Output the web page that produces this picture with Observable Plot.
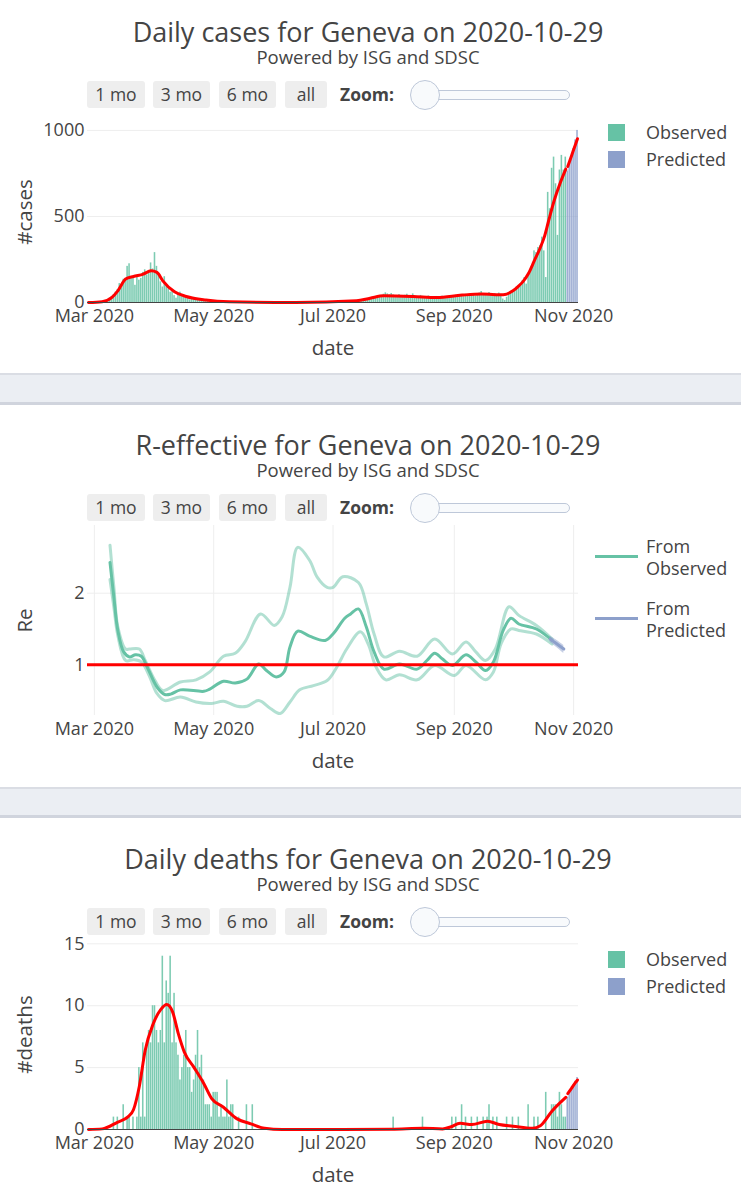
<!DOCTYPE html>
<html>
<head>
<meta charset="utf-8">
<script src="https://cdn.jsdelivr.net/npm/d3@7"></script>
<script src="https://cdn.jsdelivr.net/npm/@observablehq/plot@0.6"></script>
<style>
html,body{margin:0;padding:0;background:#fff;}
#page{position:relative;width:741px;height:1200px;overflow:hidden;font-family:"Open Sans",sans-serif;color:#444;}
.panel{position:absolute;left:0;width:741px;height:373px;}
.panel svg{position:absolute;left:0;top:0;}
.title{position:absolute;left:0;width:736px;text-align:center;top:17px;font-size:27px;line-height:30px;white-space:nowrap;}
.subtitle{position:absolute;left:0;width:736px;text-align:center;top:47px;font-size:18.5px;line-height:19px;white-space:nowrap;}
.btn{position:absolute;top:81px;height:27px;line-height:27px;background:#eeeeee;border-radius:3px;text-align:center;font-size:17.5px;}
.zoomlbl{position:absolute;top:81px;line-height:27px;left:340px;font-weight:bold;font-size:17.5px;}
.track{position:absolute;left:425px;top:90px;width:143px;height:8px;border:1px solid #bec8d9;border-radius:5px;background:#f8fafc;}
.knob{position:absolute;left:410px;top:80px;width:28px;height:28px;border:1px solid #bec8d9;border-radius:50%;background:#f8fafc;}
.band{position:absolute;left:0;width:741px;background:#ebeef3;border-top:2px solid #dadde4;border-bottom:3px solid #d0d4dd;box-sizing:border-box;}
.sq{position:absolute;left:608px;width:17px;height:17px;}
.legtxt{position:absolute;left:646px;font-size:18px;line-height:22px;white-space:nowrap;}
.legline{position:absolute;left:595px;width:43px;height:3px;}
</style>
</head>
<body>
<div id="page"></div>
<script>
// ---------------- DATA ----------------
const startDate = "2020-02-27"; // first day of the daily series

// Daily cases (observed), 2020-02-27 .. 2020-10-28
const casesObserved = [
  0,1,0,
  2,1,3,5,6,10,12,18,25,35,45,60,75,110,85,135,140,210,225,150,145,100,155,130,140,175,190,160,185,230,195,
  290,210,160,120,90,150,105,80,60,70,40,25,50,60,45,40,35,30,15,25,30,22,20,18,10,8,15,12,10,8,
  6,5,3,8,4,6,3,2,5,4,3,2,6,1,3,2,4,1,2,3,0,2,1,3,0,1,2,0,1,2,1,
  1,0,2,0,1,0,0,3,1,0,2,1,0,0,1,2,0,1,3,0,2,1,0,4,2,1,3,2,5,4,
  2,4,3,5,2,6,4,3,7,5,6,9,8,10,12,11,15,18,22,25,24,30,33,38,36,42,48,56,50,45,52,
  44,40,38,46,35,30,42,48,40,36,50,38,34,30,41,36,32,28,38,33,30,27,35,26,32,37,30,34,29,40,36,
  38,42,35,45,40,33,48,44,36,50,46,38,42,55,64,52,45,40,58,48,42,52,38,55,45,20,12,30,45,55,
  65,75,90,95,105,126,145,107,170,190,205,300,290,320,330,380,300,145,640,545,780,845,690,390,770,855,770,845
];
// Daily cases (predicted), 2020-10-29 .. 2020-11-03
const casesPredicted = [765,805,850,895,945,1000];

// Daily deaths (observed), 2020-02-27 .. 2020-10-28
const deathsObserved = [
  0,0,0,
  0,0,0,0,0,0,0,0,0,0, 1,0,1,0,0,2,0,1,1,0, 1,0,1,5,1,7,1,7,8,7, 10,
  10,8,7,8,14,7,12,11,14,7, 11,7,6,4,5,6,8,5,5,3, 4,6,8,5,6,4,2,2,2,1,
  3,3,3,1,2,1,1,4,1,2, 2,0,0,1,0,0,0,2,0,0, 2,0,0,0,0,0,0,0,0,0, 0,
  0,0,0,0,0,0,0,0,0,0, 0,0,0,0,0,0,0,0,0,0, 0,0,0,0,0,0,0,0,0,0,
  0,0,0,0,0,0,0,0,0,0, 0,0,0,0,0,0,0,0,0,0, 0,0,0,0,0,0,0,0,0,0, 0,
  1,0,0,0,0,0,0,0,0,0, 0,0,0,0,0,1,0,0,0,0, 0,0,0,0,0,0,0,0,0,0, 1,
  0,1,0,0,2,0,1,0,0,1, 0,0,1,0,0,1,0,1,2,0, 1,0,1,0,0,0,0,1,0,0,
  1,0,0,1,0,0,0,0,2,0, 0,1,0,1,0,0,0,3,0,0, 2,2,2,1,3,2,1,1
];
// Daily deaths (predicted), 2020-10-29 .. 2020-11-03
const deathsPredicted = [2.6,2.9,3.2,3.6,3.9,4.2];

// Smoothed fit (red line) for cases
const casesFit = [
  ["2020-02-27",0],["2020-03-05",5],["2020-03-10",30],["2020-03-13",68],["2020-03-17",136],
  ["2020-03-21",151],["2020-03-26",165],["2020-03-30",184],["2020-04-02",175],["2020-04-05",126],
  ["2020-04-11",62],["2020-04-17",35],["2020-04-27",14],["2020-05-09",4],["2020-06-12",0],
  ["2020-07-13",10],["2020-07-20",25],["2020-07-27",39],["2020-08-11",35],["2020-08-23",29],
  ["2020-09-05",43],["2020-09-15",49],["2020-09-26",45],["2020-10-01",68],["2020-10-04",97],
  ["2020-10-06",120],["2020-10-09",170],["2020-10-12",245],["2020-10-15",320],["2020-10-17",380],
  ["2020-10-19",465],["2020-10-22",590],["2020-10-25",690],["2020-10-28",775]
];
const casesFitPredicted = [["2020-10-29",790],["2020-10-31",855],["2020-11-02",920],["2020-11-03",952]];

// Smoothed fit (red line) for deaths
const deathsFit = [
  ["2020-02-27",0],["2020-03-05",0.05],["2020-03-13",0.6],["2020-03-18",1.0],["2020-03-21",1.6],
  ["2020-03-24",3.5],["2020-03-27",6.4],["2020-03-31",8.5],["2020-04-04",9.7],["2020-04-07",10.1],
  ["2020-04-10",9.5],["2020-04-13",7.7],["2020-04-16",6.25],["2020-04-21",5.0],["2020-04-26",3.7],
  ["2020-04-30",2.5],["2020-05-06",1.8],["2020-05-13",0.86],["2020-05-20",0.46],["2020-05-27",0.1],
  ["2020-06-05",0],["2020-07-31",0.03],["2020-08-16",0.1],["2020-08-26",0.05],["2020-08-30",0.2],
  ["2020-09-04",0.5],["2020-09-10",0.4],["2020-09-18",0.67],["2020-09-24",0.4],["2020-10-01",0.27],
  ["2020-10-11",0.1],["2020-10-15",0.3],["2020-10-21",1.5],["2020-10-28",2.6]
];
const deathsFitPredicted = [["2020-10-29",2.9],["2020-10-31",3.35],["2020-11-02",3.8],["2020-11-03",4.0]];

// R-effective (from observed): central estimate and bounds
const reMean = [
  ["2020-03-09",2.43],["2020-03-11",1.94],["2020-03-13",1.48],["2020-03-16",1.18],["2020-03-19",1.11],
  ["2020-03-22",1.14],["2020-03-25",1.12],["2020-03-28",0.97],["2020-04-02",0.69],["2020-04-06",0.585],
  ["2020-04-09",0.59],["2020-04-14",0.65],["2020-04-26",0.63],["2020-04-29",0.66],["2020-05-06",0.77],
  ["2020-05-12",0.745],["2020-05-18",0.80],["2020-05-24",1.01],["2020-05-28",0.92],["2020-06-02",0.83],
  ["2020-06-06",0.90],["2020-06-09",1.25],["2020-06-13",1.47],["2020-06-19",1.40],["2020-06-27",1.34],
  ["2020-07-01",1.43],["2020-07-07",1.65],["2020-07-10",1.71],["2020-07-14",1.78],["2020-07-18",1.53],
  ["2020-07-22",1.18],["2020-07-27",0.94],["2020-08-04",1.01],["2020-08-13",0.94],["2020-08-18",1.06],
  ["2020-08-22",1.16],["2020-08-26",1.08],["2020-08-31",0.99],["2020-09-07",1.14],["2020-09-12",1.04],
  ["2020-09-17",0.92],["2020-09-21",1.04],["2020-09-26",1.48],["2020-09-30",1.65],["2020-10-04",1.57],
  ["2020-10-13",1.50],["2020-10-21",1.34]
];
const reUpper = [
  ["2020-03-09",2.67],["2020-03-11",2.08],["2020-03-13",1.53],["2020-03-17",1.22],["2020-03-19",1.22],
  ["2020-03-24",1.22],["2020-03-27",1.06],["2020-04-01",0.78],["2020-04-05",0.64],["2020-04-14",0.76],
  ["2020-04-22",0.79],["2020-04-29",0.90],["2020-05-06",1.12],["2020-05-12",1.16],["2020-05-17",1.32],
  ["2020-05-25",1.71],["2020-06-01",1.55],["2020-06-05",1.67],["2020-06-09",2.08],["2020-06-13",2.64],
  ["2020-06-19",2.46],["2020-06-23",2.22],["2020-06-28",2.08],["2020-07-01",2.08],["2020-07-06",2.23],
  ["2020-07-14",2.15],["2020-07-18",1.85],["2020-07-22",1.43],["2020-07-27",1.11],["2020-08-04",1.19],
  ["2020-08-13",1.12],["2020-08-22",1.36],["2020-08-31",1.15],["2020-09-07",1.32],["2020-09-12",1.18],
  ["2020-09-17",1.06],["2020-09-22",1.22],["2020-09-29",1.81],["2020-10-04",1.69],["2020-10-13",1.55],
  ["2020-10-21",1.36]
];
const reLower = [
  ["2020-03-09",2.19],["2020-03-11",1.80],["2020-03-13",1.41],["2020-03-17",1.06],["2020-03-21",1.07],
  ["2020-03-25",1.04],["2020-03-29",0.85],["2020-04-02",0.60],["2020-04-06",0.50],["2020-04-14",0.55],
  ["2020-04-22",0.48],["2020-04-30",0.46],["2020-05-06",0.49],["2020-05-13",0.42],["2020-05-18",0.42],
  ["2020-05-24",0.50],["2020-05-30",0.39],["2020-06-04",0.32],["2020-06-09",0.48],["2020-06-14",0.65],
  ["2020-06-21",0.71],["2020-06-28",0.78],["2020-07-03",0.97],["2020-07-08",1.22],["2020-07-15",1.46],
  ["2020-07-19",1.29],["2020-07-23",0.97],["2020-07-28",0.79],["2020-08-04",0.86],["2020-08-13",0.79],
  ["2020-08-22",0.99],["2020-09-01",0.85],["2020-09-07",0.99],["2020-09-17",0.79],["2020-09-21",0.90],
  ["2020-09-25",1.30],["2020-09-30",1.50],["2020-10-04",1.48],["2020-10-13",1.43],["2020-10-21",1.29]
];
// R-effective (from predicted): date, central, lower, upper
const rePredicted = [
  ["2020-10-20",1.36,1.31,1.40],["2020-10-23",1.30,1.25,1.35],["2020-10-27",1.22,1.16,1.27]
];

// Axis ticks
const xTicks = ["2020-03-01","2020-05-01","2020-07-01","2020-09-01","2020-11-01"];
const casesTicks = [0,500,1000];
const reTicks = [1,2];
const deathsTicks = [0,5,10,15];

const colObserved = "#66c2a5";
const colPredicted = "#8da0cb";

// ---------------- BUILD ----------------
const parse = d3.utcParse("%Y-%m-%d");
const start = parse(startDate);
function dailyBars(values, offset) {
  return values.map((v, i) => {
    const d = d3.utcDay.offset(start, offset + i);
    return {x1: d3.utcHour.offset(d, -12), x2: d3.utcHour.offset(d, 12), y1: 0, y2: v};
  });
}
const nObs = casesObserved.length;
const lastDay = d3.utcDay.offset(start, nObs + casesPredicted.length - 1);
const xDomain = [d3.utcHour.offset(start, -12), d3.utcHour.offset(lastDay, 12)];
const xTickDates = xTicks.map(parse);
const pts = arr => arr.map(d => ({x: parse(d[0]), y: d[1]}));

function chart({yDomain, yTicks, gridTicks, yLabel, marks, vgrid, baseline, top}) {
  return Plot.plot({
    width: 741, height: 373,
    marginLeft: 87, marginRight: 163, marginTop: top, marginBottom: 71,
    style: {fontFamily: "'Open Sans', sans-serif", fontSize: "18px", color: "#444", background: "transparent"},
    x: {type: "utc", domain: xDomain},
    y: {domain: yDomain},
    marks: [
      vgrid ? Plot.ruleX(xTickDates, {stroke: "#eeeeee", strokeWidth: 1}) : null,
      Plot.ruleY(gridTicks, {stroke: "#eeeeee", strokeWidth: 1}),
      ...marks,
      baseline ? Plot.ruleY([0], {stroke: "#444", strokeWidth: 1}) : null,
      Plot.axisX(xTickDates, {tickSize: 0, tickPadding: 7, tickFormat: d3.utcFormat("%b %Y"), label: null, fontSize: 18}),
      Plot.axisY(yTicks, {tickSize: 0, tickPadding: 3, tickFormat: d => String(d), label: null, fontSize: 18}),
      Plot.text(["date"], {frameAnchor: "bottom", dy: 46, fontSize: 20.5, textAnchor: "middle", lineAnchor: "middle", fill: "#444"}),
      Plot.text([yLabel], {frameAnchor: "left", dx: -62, rotate: -90, fontSize: 20.5, textAnchor: "middle", lineAnchor: "middle", fill: "#444"})
    ]
  });
}

const page = document.getElementById("page");
function panel(topPx, titleText, svg, legendHTML) {
  const p = document.createElement("div");
  p.className = "panel";
  p.style.top = topPx + "px";
  p.appendChild(svg);
  const extra = document.createElement("div");
  extra.innerHTML = `
    <div class="title">${titleText}</div>
    <div class="subtitle">Powered by ISG and SDSC</div>
    <div class="btn" style="left:87px;width:58px">1 mo</div>
    <div class="btn" style="left:153px;width:57px">3 mo</div>
    <div class="btn" style="left:219px;width:57px">6 mo</div>
    <div class="btn" style="left:285px;width:42px">all</div>
    <div class="zoomlbl">Zoom:</div>
    <div class="track"></div>
    <div class="knob"></div>
    ${legendHTML}`;
  while (extra.firstChild) p.appendChild(extra.firstChild);
  page.appendChild(p);
}
function band(topPx, h) {
  const b = document.createElement("div");
  b.className = "band";
  b.style.top = topPx + "px";
  b.style.height = h + "px";
  page.appendChild(b);
}

const barLegend = `
  <div class="sq" style="top:124px;background:${colObserved}"></div>
  <div class="legtxt" style="top:121px">Observed</div>
  <div class="sq" style="top:151px;background:${colPredicted}"></div>
  <div class="legtxt" style="top:148px">Predicted</div>`;
const lineLegend = `
  <div class="legline" style="top:142px;background:${colObserved}"></div>
  <div class="legtxt" style="top:122px;line-height:22px">From<br>Observed</div>
  <div class="legline" style="top:204px;background:${colPredicted}"></div>
  <div class="legtxt" style="top:184px;line-height:22px">From<br>Predicted</div>`;

// Chart 1: cases
const casesSvg = chart({
  yDomain: [0, 1052], yTicks: casesTicks, gridTicks: [500, 1000], yLabel: "#cases", baseline: true, top: 121,
  marks: [
    Plot.rect(dailyBars(casesObserved, 0), {x1: "x1", x2: "x2", y1: "y1", y2: "y2", fill: colObserved, fillOpacity: 0.85, insetLeft: 0.2, insetRight: 0.2}),
    Plot.rect(dailyBars(casesPredicted, nObs), {x1: "x1", x2: "x2", y1: "y1", y2: "y2", fill: colPredicted, fillOpacity: 0.85, insetLeft: 0.2, insetRight: 0.2}),
    Plot.line(pts(casesFit), {x: "x", y: "y", stroke: "red", strokeWidth: 3, curve: "monotone-x"}),
    Plot.line(pts(casesFitPredicted), {x: "x", y: "y", stroke: "red", strokeWidth: 3, curve: "monotone-x"})
  ]
});
panel(0, "Daily cases for Geneva on 2020-10-29", casesSvg, barLegend);
band(373, 32);

// Chart 2: R-effective
const predPts = rePredicted.map(d => ({x: parse(d[0]), y: d[1], lo: d[2], hi: d[3]}));
const reSvg = chart({
  yDomain: [0.292, 2.945], yTicks: reTicks, gridTicks: reTicks, yLabel: "Re", vgrid: true, baseline: false, top: 112,
  marks: [
    Plot.line(pts(reUpper), {x: "x", y: "y", stroke: colObserved, strokeOpacity: 0.5, strokeWidth: 3, curve: "catmull-rom"}),
    Plot.line(pts(reLower), {x: "x", y: "y", stroke: colObserved, strokeOpacity: 0.5, strokeWidth: 3, curve: "catmull-rom"}),
    Plot.line(pts(reMean), {x: "x", y: "y", stroke: colObserved, strokeWidth: 3, curve: "catmull-rom"}),
    Plot.areaY(predPts, {x: "x", y1: "lo", y2: "hi", fill: colPredicted, fillOpacity: 0.5, curve: "catmull-rom"}),
    Plot.line(predPts, {x: "x", y: "y", stroke: colPredicted, strokeWidth: 3, curve: "catmull-rom"}),
    Plot.ruleY([1], {stroke: "red", strokeWidth: 3})
  ]
});
panel(413, "R-effective for Geneva on 2020-10-29", reSvg, lineLegend);
band(787, 31);

// Chart 3: deaths
const deathsSvg = chart({
  yDomain: [0, 15.35], yTicks: deathsTicks, gridTicks: [5, 10, 15], yLabel: "#deaths", baseline: true, top: 112,
  marks: [
    Plot.rect(dailyBars(deathsObserved, 0), {x1: "x1", x2: "x2", y1: "y1", y2: "y2", fill: colObserved, fillOpacity: 0.85, insetLeft: 0.2, insetRight: 0.2}),
    Plot.rect(dailyBars(deathsPredicted, nObs), {x1: "x1", x2: "x2", y1: "y1", y2: "y2", fill: colPredicted, fillOpacity: 0.85, insetLeft: 0.2, insetRight: 0.2}),
    Plot.line(pts(deathsFit), {x: "x", y: "y", stroke: "red", strokeWidth: 3, curve: "monotone-x"}),
    Plot.line(pts(deathsFitPredicted), {x: "x", y: "y", stroke: "red", strokeWidth: 3, curve: "monotone-x"})
  ]
});
panel(827, "Daily deaths for Geneva on 2020-10-29", deathsSvg, barLegend);
</script>
</body>
</html>
